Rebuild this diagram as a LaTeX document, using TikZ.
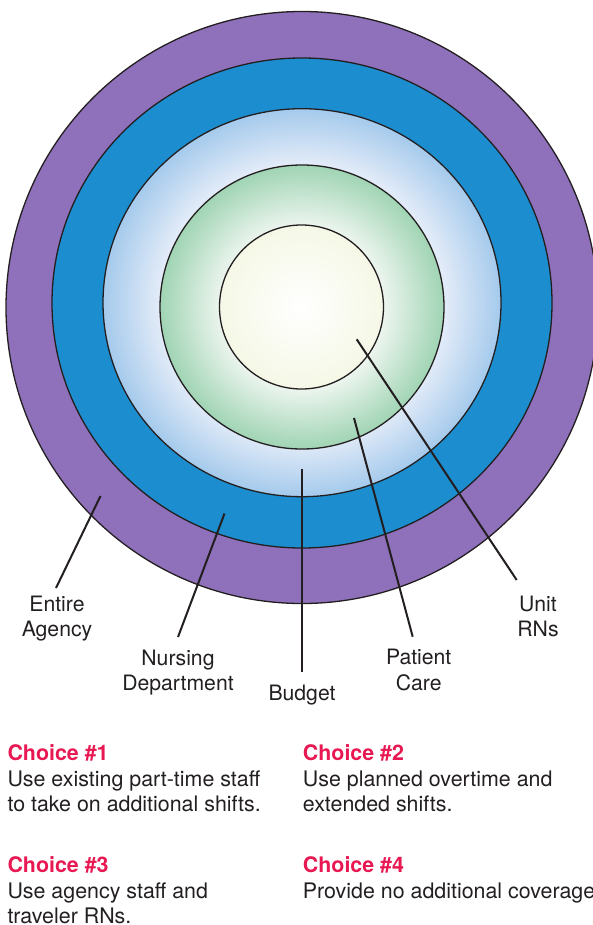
\documentclass[tikz,border=0pt]{standalone}
\usepackage{fontspec}
\setmainfont{TeX Gyre Heros}

\begin{document}
\begin{tikzpicture}[x=1pt, y=-1pt]
	\definecolor{ink}{RGB}{35, 31, 32}
	\definecolor{agencycol}{RGB}{143, 112, 186}
	\definecolor{nursingcol}{RGB}{28, 142, 208}
	\definecolor{budgetout}{RGB}{165, 202, 236}
	\definecolor{budgetin}{RGB}{226, 235, 248}
	\definecolor{careout}{RGB}{160, 212, 180}
	\definecolor{carein}{RGB}{236, 245, 238}
	\definecolor{unitout}{RGB}{245, 248, 230}
	\definecolor{choicered}{RGB}{232, 24, 82}

	\pgfdeclareradialshading{budgetring}{\pgfpointorigin}{color(0bp)=(budgetin); color(18bp)=(budgetin); color(25bp)=(budgetout); color(50bp)=(budgetout)}
	\pgfdeclareradialshading{carering}{\pgfpointorigin}{color(0bp)=(carein); color(14.4bp)=(carein); color(25bp)=(careout); color(50bp)=(careout)}

	\tikzset{
		ring/.style={draw=ink, line width=1.3pt},
		leader/.style={draw=ink, line width=2pt},
		tag/.style={font=\fontsize{21.2}{25.5}\selectfont, text=ink, align=center, inner sep=0pt, anchor=north},
		choicebox/.style={font=\fontsize{21.4}{25.5}\selectfont, text=ink, align=left, inner sep=0pt, anchor=north west}
	}

	\useasboundingbox (0, 0) rectangle (592, 925);

	% \leader#name#inside#outside#labelpos#text
	\def\leader#1#2#3#4#5{
		\coordinate (#1-in) at (#2);
		\coordinate (#1-out) at (#3);
		\node[tag] (#1) at (#4) {#5};
		\draw[leader] (#1-in) -- (#1-out);
	}

	% \choice#name#x#y#number#text
	\def\choice#1#2#3#4#5{
		\node[choicebox] (#1) at (#2, #3) {\textcolor{choicered}{\textbf{Choice \##4}}\\#5};
	}

	% circles, outside in
	\filldraw[ring, fill=agencycol] (302, 307.5) circle [radius=296pt];
	\filldraw[ring, fill=nursingcol] (302, 303) ellipse [x radius=250pt, y radius=245pt];
	\shadedraw[ring, shading=budgetring] (302, 302.7) ellipse [x radius=199pt, y radius=194pt];
	\shadedraw[ring, shading=carering] (302, 307) circle [radius=142pt];
	\shadedraw[ring, inner color=white, outer color=unitout] (301.5, 307) circle [radius=82pt];

	% labels
	\leader{agency}{100.5, 496}{56, 588}{57, 595.4}{Entire\\Agency}
	\leader{nursing}{224.5, 513.5}{178, 637}{178, 649.7}{Nursing\\Department}
	\leader{budget}{302, 469}{302, 672}{302, 684.7}{Budget}
	\leader{care}{354, 418}{412.7, 636.7}{418.7, 649}{Patient\\Care}
	\leader{unit}{356.7, 339.3}{516.7, 580}{538, 595.4}{Unit\\RNs}

	% choices
	\choice{choiceA}{7.3}{744.5}{1}{Use existing part-time staff\\to take on additional shifts.}
	\choice{choiceB}{302.7}{744.5}{2}{Use planned overtime and\\extended shifts.}
	\choice{choiceC}{7.3}{856.5}{3}{Use agency staff and\\traveler RNs.}
	\choice{choiceD}{302.7}{856.5}{4}{Provide no additional coverage.}
\end{tikzpicture}
\end{document}
